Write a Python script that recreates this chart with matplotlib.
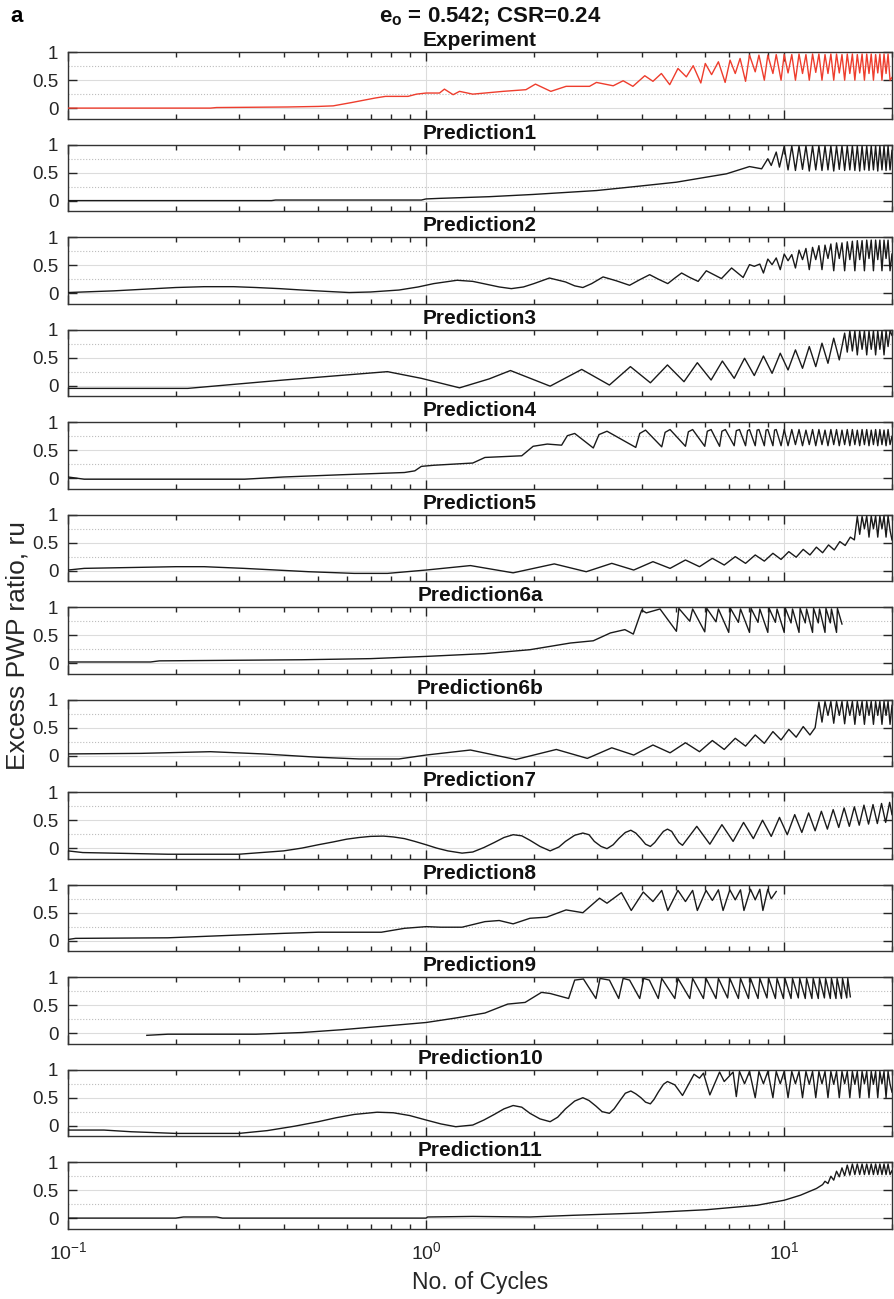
import matplotlib
matplotlib.use('Agg')
import matplotlib.pyplot as plt
from matplotlib.ticker import FixedLocator, LogLocator, NullFormatter

plt.rcParams['font.family'] = ['Liberation Sans', 'DejaVu Sans']
plt.rcParams['mathtext.fontset'] = 'custom'
plt.rcParams['mathtext.rm'] = 'Liberation Sans'
plt.rcParams['mathtext.bf'] = 'Liberation Sans:bold'

# cycle positions shared by the dense tails (10 -> 20 cycles)
q10 = [10.25, 10.5, 10.75, 11.0, 11.25, 11.5, 11.75, 12.0, 12.25, 12.5,
       12.75, 13.0, 13.25, 13.5, 13.75, 14.0, 14.25, 14.5, 14.75, 15.0,
       15.25, 15.5, 15.75, 16.0, 16.25, 16.5, 16.75, 17.0, 17.25, 17.5,
       17.75, 18.0, 18.25, 18.5, 18.75, 19.0, 19.25, 19.5, 19.75, 20.0]

# Experiment
exp_x = [0.1, 0.25, 0.26, 0.41, 0.5, 0.55, 0.62, 0.72, 0.77, 0.89,
         0.94, 1.0, 1.09, 1.125, 1.19, 1.24, 1.35, 1.64, 1.9, 2.02,
         2.23, 2.46, 2.86, 2.99, 3.33, 3.55, 3.78, 4.08, 4.3, 4.54,
         4.79, 5.05, 5.33, 5.57, 5.85, 6.02, 6.27, 6.55, 6.84, 7.06,
         7.3, 7.53, 7.8, 8.0, 8.3, 8.5, 8.8, 9.0, 9.3, 9.5, 9.8, 10.0]
exp_y = [0.0, 0.0, 0.01, 0.02, 0.03, 0.04, 0.1, 0.18, 0.21, 0.21,
         0.25, 0.27, 0.27, 0.34, 0.24, 0.3, 0.25, 0.3, 0.33, 0.43,
         0.3, 0.39, 0.39, 0.46, 0.4, 0.49, 0.39, 0.58, 0.48, 0.62,
         0.42, 0.71, 0.56, 0.76, 0.45, 0.8, 0.6, 0.83, 0.46, 0.86,
         0.62, 0.89, 0.48, 0.95, 0.65, 0.95, 0.5, 0.95, 0.62, 0.96, 0.5, 0.96]
exp_tail = [0.63, 0.96, 0.5, 0.97, 0.62, 0.96, 0.5, 0.97, 0.64, 0.97,
            0.5, 0.96, 0.62, 0.97, 0.5, 0.97, 0.63, 0.96, 0.5, 0.97,
            0.62, 0.97, 0.5, 0.96, 0.63, 0.97, 0.5, 0.97, 0.62, 0.97,
            0.5, 0.96, 0.63, 0.97, 0.5, 0.97, 0.62, 0.97, 0.5, 0.55]

# Prediction1
p1_x = [0.1, 0.37, 0.38, 0.97, 1.0, 1.09, 1.5, 1.99, 2.99, 3.95,
        5.0, 6.06, 6.9, 8.0, 8.65, 9.0, 9.2, 9.5, 9.7, 10.0]
p1_y = [0.0, 0.0, 0.01, 0.01, 0.03, 0.04, 0.07, 0.11, 0.18, 0.26,
        0.33, 0.42, 0.48, 0.61, 0.57, 0.75, 0.63, 0.87, 0.6, 0.97]
p1_tail = [0.55, 0.98, 0.54, 0.98, 0.56, 0.98, 0.53, 0.98, 0.55, 0.98,
           0.54, 0.98, 0.55, 0.98, 0.53, 0.98, 0.56, 0.98, 0.54, 0.98,
           0.55, 0.98, 0.54, 0.98, 0.53, 0.98, 0.55, 0.98, 0.54, 0.98,
           0.55, 0.98, 0.53, 0.98, 0.55, 0.98, 0.54, 0.98, 0.55, 0.9]

# Prediction2
p2_x = [0.1, 0.134, 0.2, 0.24, 0.29, 0.335, 0.39, 0.45, 0.53, 0.61,
        0.7, 0.84, 0.95, 1.05, 1.22, 1.35, 1.47, 1.6, 1.73, 1.87,
        2.0, 2.21, 2.45, 2.6, 2.74, 2.9, 3.12, 3.4, 3.7, 3.95,
        4.21, 4.45, 4.73, 4.95, 5.17, 5.45, 5.75, 6.06, 6.68, 7.13,
        7.68, 8.0, 8.25, 8.55, 8.75, 9.0, 9.25, 9.5, 9.75, 10.0]
p2_y = [0.01, 0.04, 0.1, 0.115, 0.115, 0.1, 0.08, 0.055, 0.03, 0.01,
        0.02, 0.055, 0.11, 0.17, 0.23, 0.21, 0.16, 0.11, 0.08, 0.11,
        0.17, 0.27, 0.2, 0.13, 0.1, 0.17, 0.29, 0.22, 0.14, 0.24,
        0.33, 0.25, 0.17, 0.27, 0.36, 0.28, 0.21, 0.4, 0.26, 0.45,
        0.28, 0.51, 0.48, 0.52, 0.36, 0.61, 0.51, 0.63, 0.42, 0.7]
p2_tail = [0.58, 0.69, 0.45, 0.77, 0.6, 0.8, 0.42, 0.82, 0.6, 0.85,
           0.42, 0.86, 0.62, 0.88, 0.4, 0.9, 0.62, 0.9, 0.4, 0.92,
           0.6, 0.93, 0.4, 0.94, 0.6, 0.94, 0.4, 0.95, 0.62, 0.95,
           0.4, 0.95, 0.6, 0.95, 0.4, 0.95, 0.62, 0.95, 0.4, 0.7]

# Prediction3
p3_x = [0.1, 0.216, 0.4, 0.78, 0.97, 1.24, 1.5, 1.72, 2.22, 2.72,
        3.25, 3.72, 4.23, 4.72, 5.25, 5.72, 6.25, 6.72, 7.25, 7.75,
        8.25, 8.75, 9.25, 9.75, 10.25, 10.75, 11.25, 11.75, 12.25, 12.75,
        13.25, 13.75, 14.25, 14.75, 15.0, 15.25, 15.5, 15.75, 16.0, 16.25,
        16.5, 16.75, 17.0, 17.25, 17.5, 17.75, 18.0, 18.25, 18.5, 18.75,
        19.0, 19.25, 19.5, 19.75, 20.0]
p3_y = [-0.05, -0.05, 0.1, 0.25, 0.13, -0.04, 0.12, 0.27, -0.01, 0.29,
        0.01, 0.34, 0.05, 0.37, 0.07, 0.41, 0.1, 0.44, 0.13, 0.49,
        0.18, 0.53, 0.22, 0.58, 0.28, 0.64, 0.31, 0.7, 0.34, 0.76,
        0.4, 0.85, 0.46, 0.94, 0.6, 0.98, 0.62, 0.98, 0.55, 0.98,
        0.65, 0.98, 0.55, 0.98, 0.65, 0.98, 0.55, 0.98, 0.65, 0.98,
        0.55, 0.98, 0.7, 0.98, 0.9]

# Prediction4
p4_x = [0.1, 0.111, 0.311, 0.4, 0.58, 0.87, 0.93, 0.97, 1.05, 1.35,
        1.46, 1.85, 1.99, 2.18, 2.39, 2.48, 2.6, 2.93, 3.04, 3.2,
        3.85, 3.95, 4.1, 4.55, 4.65, 4.8, 5.3, 5.4, 5.55, 6.0,
        6.1, 6.25, 6.6, 6.7, 6.85, 7.25, 7.35, 7.5, 7.8, 7.9,
        8.0, 8.3, 8.4, 8.5, 8.8, 8.9, 9.0, 9.3, 9.4, 9.5, 9.8, 10.0]
p4_y = [0.02, -0.02, -0.02, 0.02, 0.06, 0.1, 0.13, 0.21, 0.23, 0.27,
        0.37, 0.4, 0.57, 0.61, 0.59, 0.76, 0.8, 0.54, 0.78, 0.84,
        0.55, 0.8, 0.86, 0.56, 0.82, 0.87, 0.57, 0.83, 0.87, 0.57,
        0.84, 0.87, 0.57, 0.84, 0.87, 0.58, 0.85, 0.87, 0.58, 0.85,
        0.87, 0.58, 0.86, 0.87, 0.58, 0.86, 0.87, 0.58, 0.86, 0.87, 0.58, 0.87]
p4_tail = [0.58, 0.87, 0.6, 0.87, 0.58, 0.86, 0.6, 0.87, 0.58, 0.87,
           0.6, 0.86, 0.58, 0.87, 0.6, 0.87, 0.58, 0.86, 0.6, 0.87,
           0.58, 0.87, 0.6, 0.86, 0.58, 0.87, 0.6, 0.87, 0.58, 0.86,
           0.6, 0.87, 0.58, 0.87, 0.6, 0.86, 0.58, 0.87, 0.6, 0.75]

# Prediction5
p5_x = [0.1, 0.111, 0.2, 0.24, 0.31, 0.47, 0.63, 0.78, 1.0, 1.33,
        1.75, 2.28, 2.8, 3.3, 3.8, 4.3, 4.8, 5.3, 5.8, 6.3,
        6.8, 7.3, 7.8, 8.3, 8.8, 9.3, 9.8, 10.3, 10.8, 11.3,
        11.8, 12.3, 12.8, 13.3, 13.8, 14.3, 14.8, 15.3, 15.7, 16.0,
        16.25, 16.5, 16.75, 17.0, 17.25, 17.5, 17.75, 18.0, 18.25, 18.5,
        18.75, 19.0, 19.25, 19.5, 19.75, 20.0]
p5_y = [0.01, 0.04, 0.07, 0.07, 0.04, -0.02, -0.05, -0.05, 0.01, 0.09,
        -0.04, 0.12, -0.02, 0.13, 0.01, 0.16, 0.04, 0.19, 0.07, 0.22,
        0.1, 0.25, 0.13, 0.28, 0.17, 0.31, 0.2, 0.34, 0.24, 0.38,
        0.28, 0.42, 0.32, 0.46, 0.37, 0.52, 0.45, 0.6, 0.55, 0.97,
        0.65, 0.97, 0.75, 0.98, 0.6, 0.98, 0.75, 0.98, 0.6, 0.98,
        0.75, 0.98, 0.6, 0.98, 0.72, 0.55]

# Prediction6a
p6a_x = [0.1, 0.17, 0.18, 0.45, 0.7, 1.0, 1.46, 1.95, 2.53, 2.93,
         3.27, 3.59, 3.79, 4.0, 4.12, 4.5, 5.0, 5.08, 5.45, 5.55,
         6.0, 6.08, 6.45, 6.55, 7.0, 7.08, 7.45, 7.55, 8.0, 8.08,
         8.45, 8.55, 9.0, 9.08, 9.45, 9.55, 10.0, 10.08, 10.45, 10.55,
         11.0, 11.08, 11.45, 11.55, 12.0, 12.08, 12.45, 12.55, 13.0, 13.08,
         13.45, 13.55, 14.0, 14.08, 14.5]
p6a_y = [0.02, 0.02, 0.04, 0.06, 0.08, 0.12, 0.17, 0.24, 0.36, 0.4,
         0.54, 0.6, 0.52, 0.95, 0.9, 0.97, 0.57, 0.98, 0.75, 0.97,
         0.56, 0.98, 0.74, 0.97, 0.55, 0.98, 0.73, 0.97, 0.55, 0.98,
         0.73, 0.97, 0.55, 0.98, 0.73, 0.97, 0.55, 0.98, 0.72, 0.97,
         0.55, 0.98, 0.72, 0.97, 0.55, 0.98, 0.72, 0.97, 0.55, 0.98,
         0.72, 0.97, 0.55, 0.98, 0.7]

# Prediction6b
p6b_x = [0.1, 0.16, 0.25, 0.35, 0.5, 0.65, 0.84, 1.0, 1.33, 1.78,
         2.31, 2.82, 3.3, 3.8, 4.3, 4.8, 5.3, 5.8, 6.3, 6.8,
         7.3, 7.8, 8.3, 8.8, 9.3, 9.8, 10.3, 10.8, 11.3, 11.8,
         12.2, 12.5, 12.75, 13.0, 13.25, 13.5, 13.75, 14.0, 14.25, 14.5,
         14.75, 15.0, 15.25, 15.5, 15.75, 16.0, 16.25, 16.5, 16.75, 17.0,
         17.25, 17.5, 17.75, 18.0, 18.25, 18.5, 18.75, 19.0, 19.25, 19.5,
         19.75, 20.0]
p6b_y = [0.03, 0.04, 0.07, 0.03, -0.03, -0.06, -0.06, 0.01, 0.1, -0.07,
         0.11, -0.05, 0.14, 0.01, 0.19, 0.05, 0.23, 0.07, 0.27, 0.11,
         0.31, 0.17, 0.37, 0.22, 0.43, 0.28, 0.47, 0.33, 0.52, 0.37,
         0.5, 0.96, 0.6, 0.97, 0.72, 0.97, 0.58, 0.97, 0.72, 0.97,
         0.57, 0.97, 0.72, 0.97, 0.56, 0.97, 0.72, 0.97, 0.56, 0.97,
         0.72, 0.97, 0.56, 0.97, 0.72, 0.97, 0.56, 0.97, 0.72, 0.97,
         0.56, 0.9]

# Prediction7
p7_x = [0.1, 0.11, 0.19, 0.3, 0.4, 0.45, 0.5, 0.55, 0.6, 0.65,
        0.7, 0.76, 0.81, 0.87, 0.93, 1.0, 1.07, 1.15, 1.26, 1.35,
        1.45, 1.55, 1.65, 1.75, 1.85, 1.95, 2.08, 2.22, 2.35, 2.45,
        2.6, 2.74, 2.85, 2.95, 3.08, 3.2, 3.33, 3.45, 3.6, 3.73,
        3.85, 3.98, 4.1, 4.23, 4.35, 4.47, 4.6, 4.72, 4.85, 4.96,
        5.08, 5.2,
        5.7, 6.2, 6.7, 7.2, 7.7, 8.2, 8.7, 9.2, 9.7, 10.2,
        10.7, 11.2, 11.7, 12.2, 12.7, 13.2, 13.7, 14.2, 14.7, 15.2,
        15.7, 16.2, 16.7, 17.2, 17.7, 18.2, 18.7, 19.2, 19.7, 20.0]
p7_y = [-0.05, -0.08, -0.11, -0.11, -0.05, 0.0, 0.06, 0.11, 0.16, 0.19,
        0.21, 0.215, 0.2, 0.17, 0.12, 0.06, 0.0, -0.05, -0.09, -0.07,
        0.01, 0.1, 0.19, 0.24, 0.22, 0.14, 0.03, -0.05, 0.02, 0.12,
        0.23, 0.27, 0.24, 0.12, 0.03, -0.01, 0.06, 0.17, 0.28, 0.32,
        0.27, 0.17, 0.07, 0.03, 0.1, 0.2, 0.3, 0.34, 0.3, 0.2,
        0.1, 0.05,
        0.39, 0.07, 0.42, 0.12, 0.46, 0.17, 0.5, 0.21, 0.55, 0.24,
        0.6, 0.28, 0.63, 0.31, 0.66, 0.34, 0.69, 0.37, 0.72, 0.39,
        0.74, 0.41, 0.77, 0.43, 0.78, 0.44, 0.8, 0.46, 0.82, 0.6]

# Prediction8
p8_x = [0.1, 0.105, 0.19, 0.3, 0.4, 0.5, 0.75, 0.87, 1.0, 1.1,
        1.26, 1.46, 1.6, 1.75, 1.95, 2.17, 2.46, 2.74, 3.05, 3.2,
        3.51, 3.74, 4.04, 4.3, 4.55, 4.73, 5.05, 5.3, 5.55, 5.72,
        6.05, 6.3, 6.55, 6.75, 7.05, 7.3, 7.55, 7.72, 8.05, 8.3,
        8.55, 8.72, 9.0, 9.2, 9.5]
p8_y = [0.02, 0.04, 0.05, 0.1, 0.13, 0.15, 0.15, 0.22, 0.25, 0.24,
        0.24, 0.34, 0.36, 0.3, 0.4, 0.42, 0.55, 0.5, 0.76, 0.67,
        0.86, 0.54, 0.87, 0.7, 0.9, 0.54, 0.9, 0.7, 0.9, 0.54,
        0.9, 0.72, 0.91, 0.54, 0.91, 0.73, 0.91, 0.54, 0.92, 0.73,
        0.92, 0.54, 0.92, 0.75, 0.88]

# Prediction9
p9_x = [0.166, 0.19, 0.335, 0.45, 0.58, 0.78, 1.0, 1.21, 1.46, 1.69,
        1.89, 2.1, 2.22, 2.5, 2.6, 2.75, 2.98, 3.06, 3.25, 3.45,
        3.55, 3.7, 3.95, 4.05, 4.2, 4.45, 4.55, 4.95, 5.05, 5.45,
        5.55, 5.95, 6.05, 6.45, 6.55, 6.95, 7.05, 7.45, 7.55, 7.95,
        8.05, 8.45, 8.55, 8.95, 9.05, 9.45, 9.55, 9.95, 10.05, 10.45,
        10.55, 10.95, 11.05, 11.45, 11.55, 11.95, 12.05, 12.45, 12.55, 12.95,
        13.05, 13.45, 13.55, 13.95, 14.05, 14.45, 14.55, 14.95, 15.05, 15.3]
p9_y = [-0.04, -0.02, -0.02, 0.01, 0.06, 0.13, 0.19, 0.27, 0.36, 0.52,
        0.55, 0.73, 0.71, 0.62, 0.95, 0.97, 0.62, 0.98, 0.95, 0.62,
        0.98, 0.95, 0.62, 0.98, 0.95, 0.62, 0.98, 0.62, 0.98, 0.62,
        0.98, 0.62, 0.98, 0.62, 0.98, 0.63, 0.98, 0.62, 0.98, 0.62,
        0.98, 0.62, 0.98, 0.63, 0.98, 0.62, 0.98, 0.62, 0.98, 0.62,
        0.98, 0.63, 0.98, 0.62, 0.98, 0.62, 0.98, 0.62, 0.98, 0.63,
        0.98, 0.62, 0.98, 0.62, 0.98, 0.62, 0.98, 0.63, 0.98, 0.65]

# Prediction10
p10_x = [0.1, 0.126, 0.15, 0.2, 0.3, 0.36, 0.43, 0.5, 0.56, 0.63,
         0.73, 0.81, 0.9, 1.0, 1.1, 1.21, 1.35, 1.45, 1.55, 1.65,
         1.75, 1.85, 1.95, 2.08, 2.22, 2.33, 2.45, 2.6, 2.74, 2.85,
         2.98, 3.1, 3.25, 3.35, 3.48, 3.6, 3.73, 3.85, 3.98, 4.1,
         4.23, 4.33, 4.45, 4.6, 4.72, 4.95, 5.2, 5.6, 5.8, 5.95,
         6.2, 6.6, 6.8, 7.2, 7.35, 7.5, 7.75, 8.0, 8.3, 8.5,
         8.75, 9.0, 9.3, 9.5, 9.75, 10.0]
p10_y = [-0.08, -0.08, -0.11, -0.14, -0.14, -0.09, -0.01, 0.07, 0.14, 0.2,
         0.24, 0.23, 0.18, 0.1, 0.03, -0.02, 0.01, 0.1, 0.2, 0.3,
         0.36, 0.33, 0.22, 0.12, 0.07, 0.15, 0.3, 0.44, 0.5, 0.45,
         0.35, 0.25, 0.22, 0.3, 0.45, 0.58, 0.62, 0.57, 0.5, 0.42,
         0.39, 0.47, 0.6, 0.74, 0.79, 0.73, 0.54, 0.92, 0.85, 0.94,
         0.55, 0.96, 0.79, 0.96, 0.52, 0.97, 0.75, 0.97, 0.5, 0.97,
         0.75, 0.97, 0.5, 0.97, 0.75, 0.97]
p10_tail = [0.5, 0.97, 0.75, 0.97, 0.5, 0.97, 0.74, 0.97, 0.5, 0.97,
            0.75, 0.97, 0.5, 0.97, 0.74, 0.97, 0.5, 0.97, 0.75, 0.97,
            0.5, 0.97, 0.74, 0.97, 0.5, 0.97, 0.75, 0.97, 0.5, 0.97,
            0.74, 0.97, 0.5, 0.97, 0.75, 0.97, 0.5, 0.97, 0.74, 0.6]

# Prediction11
p11_x = [0.1, 0.2, 0.21, 0.26, 0.27, 1.0, 1.01, 1.35, 1.95, 2.57,
         3.95, 6.06, 8.4, 10.0, 11.1, 12.3, 12.8, 13.0, 13.25, 13.5,
         13.75, 14.0, 14.25, 14.5, 14.75, 15.0, 15.25, 15.5, 15.75, 16.0,
         16.25, 16.5, 16.75, 17.0, 17.25, 17.5, 17.75, 18.0, 18.25, 18.5,
         18.75, 19.0, 19.25, 19.5, 19.75, 20.0]
p11_y = [0.0, 0.0, 0.02, 0.02, 0.0, 0.0, 0.02, 0.03, 0.02, 0.05,
         0.09, 0.15, 0.23, 0.32, 0.41, 0.53, 0.6, 0.66, 0.62, 0.75,
         0.68, 0.84, 0.74, 0.9, 0.76, 0.95, 0.77, 0.97, 0.78, 0.97,
         0.78, 0.97, 0.78, 0.97, 0.78, 0.97, 0.78, 0.97, 0.78, 0.97,
         0.78, 0.97, 0.78, 0.97, 0.78, 0.85]

titles = ['Experiment', 'Prediction1', 'Prediction2', 'Prediction3', 'Prediction4',
          'Prediction5', 'Prediction6a', 'Prediction6b', 'Prediction7', 'Prediction8',
          'Prediction9', 'Prediction10', 'Prediction11']

series = [
    (exp_x + q10, exp_y + exp_tail),
    (p1_x + q10, p1_y + p1_tail),
    (p2_x + q10, p2_y + p2_tail),
    (p3_x, p3_y),
    (p4_x + q10, p4_y + p4_tail),
    (p5_x, p5_y),
    (p6a_x, p6a_y),
    (p6b_x, p6b_y),
    (p7_x, p7_y),
    (p8_x, p8_y),
    (p9_x, p9_y),
    (p10_x + q10, p10_y + p10_tail),
    (p11_x, p11_y),
]

W, H = 894, 1299
fig = plt.figure(figsize=(W / 100, H / 100), dpi=100)

ax_left, ax_w = 68, 824
first_top, step, ax_h = 52.3, 92.5, 66.4

for i, (name, (xs, ys)) in enumerate(zip(titles, series)):
    top = first_top + step * i
    ax = fig.add_axes([ax_left / W, 1 - (top + ax_h) / H, ax_w / W, ax_h / H])
    col = '#ee3d2d' if i == 0 else '#1a1a1a'
    ax.plot(xs, ys, color=col, lw=1.0, zorder=3)

    ax.set_xscale('log')
    ax.set_xlim(0.1, 20)
    ax.set_ylim(-0.19, 1.0)
    ax.set_yticks([0, 0.5, 1])
    ax.set_yticklabels(['0', '0.5', '1'])
    ax.yaxis.set_minor_locator(FixedLocator([0.25, 0.75]))
    ax.xaxis.set_major_locator(LogLocator(base=10))
    ax.xaxis.set_minor_locator(LogLocator(base=10, subs=range(2, 10)))
    ax.xaxis.set_minor_formatter(NullFormatter())

    ax.grid(which='major', color='#dcdcdc', lw=0.8, zorder=0)
    ax.grid(which='minor', axis='y', color='#bdbdbd', ls=':', lw=0.8, zorder=0)
    ax.grid(which='minor', axis='x', visible=False)

    ax.tick_params(which='both', direction='in', top=True, right=True,
                   colors='#262626', labelcolor='#262626')
    ax.tick_params(which='major', length=6.5, width=1.0, labelsize=13.5)
    ax.tick_params(axis='y', which='minor', length=0)
    ax.tick_params(axis='x', which='minor', length=3.5, width=1.0)
    ax.tick_params(axis='y', pad=7)
    ax.tick_params(axis='x', pad=9, labelsize=14)
    if i < len(titles) - 1:
        ax.tick_params(labelbottom=False)
    for s in ax.spines.values():
        s.set_color('#333333')
        s.set_linewidth(1.0)

    ax.set_title(name, fontweight='bold', fontsize=15, pad=4.5, color='#111111')

fig.text(10 / W, 1 - 16 / H, 'a', fontweight='bold', fontsize=16, va='center', ha='left')
fig.text(490 / W, 1 - 17 / H, r'e$_{\mathbf{o}}$ = 0.542; CSR=0.24', fontweight='bold',
         fontsize=16, va='center', ha='center', color='#111111')
fig.text(480 / W, 1 - 1283 / H, 'No. of Cycles', fontsize=16.5, va='center', ha='center',
         color='#262626')
fig.text(18 / W, 1 - 646 / H, 'Excess PWP ratio, ru', fontsize=19, rotation=90,
         va='center', ha='center', color='#262626')

fig.savefig('out.png', dpi=100, facecolor='white')
